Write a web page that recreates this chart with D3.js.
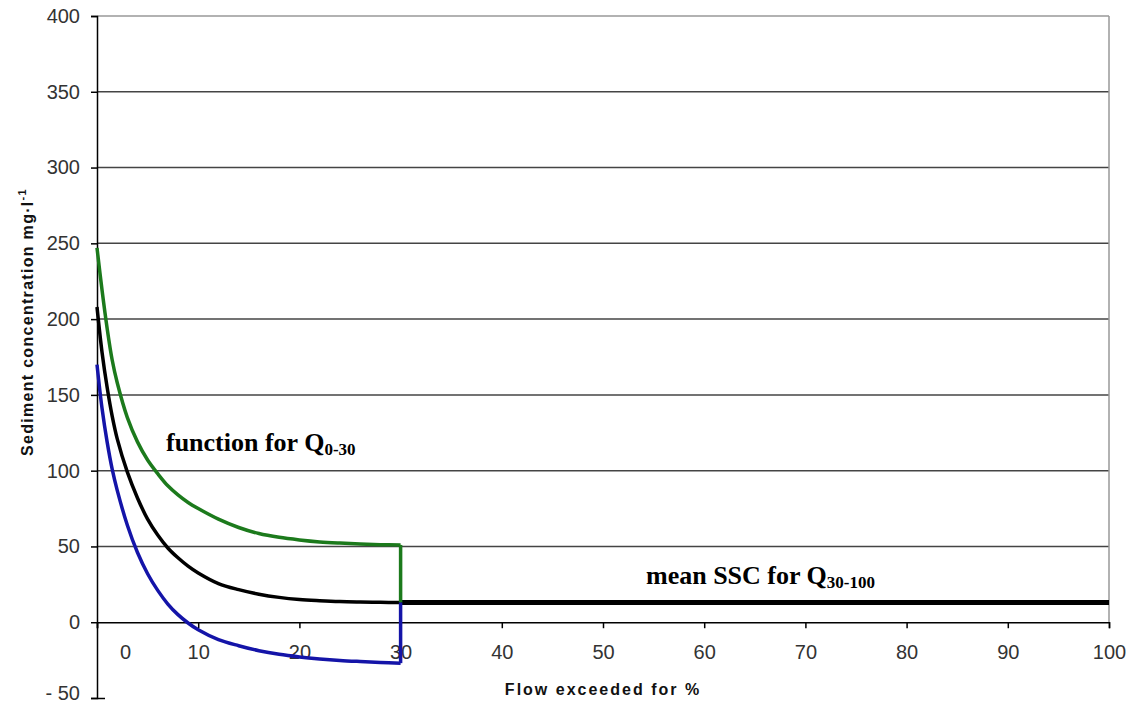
<!DOCTYPE html>
<html lang="en">
  <head>
    <meta charset="utf-8">
    <title>Sediment concentration vs flow exceeded</title>
    <script src="https://d3js.org/d3.v7.min.js"></script>
    <style>
      body { margin: 0; background: white; }
      .tick text { font-family: "Liberation Sans", Arial, sans-serif; font-size: 20px; fill: #333; }
      .title { font-family: "Liberation Sans", Arial, sans-serif; font-size: 16px; font-weight: bold; fill: #111; }
      .note { font-family: "Liberation Serif", "Times New Roman", serif; font-weight: bold; font-size: 26px; fill: black; }
    </style>
  </head>
  <body>
    <svg width="1130" height="706"></svg>
    <script>
      // values
      var yTicks = [-50, 0, 50, 100, 150, 200, 250, 300, 350, 400];
      var xTicks = [0, 10, 20, 30, 40, 50, 60, 70, 80, 90, 100];
      var flow = [0, 0.5, 1, 1.5, 2, 3, 4, 5, 6, 7, 8, 9, 10, 12, 14, 16, 18, 20, 22, 24, 26, 28, 30];
      var upperSSC = [247, 219, 194, 173, 158, 135, 119, 107, 98, 90, 84, 79, 75, 68, 62.5, 58.5, 56, 54.3, 53, 52.2, 51.6, 51.2, 51];
      var meanSSC = [208, 178, 155, 136, 121, 99, 82, 68, 57.5, 49, 42.5, 37, 32.5, 25.5, 21.5, 18.5, 16.4, 15, 14.2, 13.6, 13.3, 13.1, 13];
      var lowerSSC = [170, 141, 119, 101, 87, 64, 46, 32, 21, 12, 5, -0.5, -5, -11.5, -15.5, -18.8, -21.2, -22.9, -24.2, -25.2, -25.9, -26.5, -27];
      var tailFlow = [30, 100];
      var tailSSC = [13, 13];

      var svg = d3.select("svg");
      var x = d3.scaleLinear().domain([0, 100]).range([97, 1109]);
      var y = d3.scaleLinear().domain([-50, 400]).range([698, 16]);

      // horizontal gridlines
      svg.append("g").selectAll("line").data(yTicks.filter(function(d) { return d > 0; }))
        .enter().append("line")
        .attr("x1", x(0)).attr("x2", x(100))
        .attr("y1", function(d) { return y(d); }).attr("y2", function(d) { return y(d); })
        .attr("stroke", function(d) { return d == 400 ? "#999" : "#444"; })
        .attr("stroke-width", 1.5);
      // right frame
      svg.append("line").attr("x1", x(100)).attr("x2", x(100))
        .attr("y1", y(400)).attr("y2", y(0))
        .attr("stroke", "#999").attr("stroke-width", 1.5);

      // y axis
      var yAxis = svg.append("g").attr("transform", "translate(" + x(0) + ",0)")
        .call(d3.axisLeft(y).tickValues(yTicks).tickSize(6).tickPadding(11)
          .tickFormat(function(d) { return d < 0 ? "- " + (-d) : d; }));
      yAxis.select(".domain").attr("stroke", "black").attr("stroke-width", 1.5);
      yAxis.selectAll(".tick line").attr("stroke", "black").attr("stroke-width", 1.5);
      var low = yAxis.selectAll(".tick").filter(function(d) { return d == -50; });
      low.select("line").attr("x2", 8).attr("x1", -6);
      low.select("text").attr("y", -5);

      // x axis along zero
      var xAxis = svg.append("g").attr("transform", "translate(0," + y(0) + ")")
        .call(d3.axisBottom(x).tickValues(xTicks).tickSize(6).tickPadding(17));
      xAxis.select(".domain").attr("stroke", "black").attr("stroke-width", 1.5);
      xAxis.selectAll(".tick line").attr("stroke", "black").attr("stroke-width", 1.5);
      xAxis.selectAll(".tick").filter(function(d) { return d == 0; })
        .select("text").attr("dx", 28);

      var line = d3.line()
        .x(function(d) { return x(d[0]); })
        .y(function(d) { return y(d[1]); })
        .curve(d3.curveCatmullRom.alpha(0.5));
      function pts(xs, ys) { return xs.map(function(v, i) { return [v, ys[i]]; }); }

      var drop = d3.line()
        .x(function(d) { return x(d[0]); })
        .y(function(d) { return y(d[1]); });

      // flat mean beyond 30 %
      svg.append("path").attr("d", drop(pts(tailFlow, tailSSC)))
        .attr("fill", "none").attr("stroke", "black").attr("stroke-width", 5);

      svg.append("path").attr("d", line(pts(flow, meanSSC)))
        .attr("fill", "none").attr("stroke", "black").attr("stroke-width", 3.5);

      svg.append("path").attr("d", line(pts(flow, upperSSC)))
        .attr("fill", "none").attr("stroke", "#1c7a1c").attr("stroke-width", 3.5);
      svg.append("path").attr("d", drop([[30, upperSSC[upperSSC.length - 1]], [30, tailSSC[0]]]))
        .attr("fill", "none").attr("stroke", "#1c7a1c").attr("stroke-width", 3.5);

      svg.append("path").attr("d", line(pts(flow, lowerSSC)))
        .attr("fill", "none").attr("stroke", "#1414a8").attr("stroke-width", 3.5);
      svg.append("path").attr("d", drop([[30, lowerSSC[lowerSSC.length - 1]], [30, tailSSC[0]]]))
        .attr("fill", "none").attr("stroke", "#1414a8").attr("stroke-width", 3.5);

      // axis titles
      svg.append("text").attr("class", "title").attr("text-anchor", "middle")
        .attr("letter-spacing", "1.3px")
        .attr("transform", "translate(33,322) rotate(-90)")
        .html("Sediment concentration mg·l<tspan dy='-7' font-size='11px'>-1</tspan>");
      svg.append("text").attr("class", "title").attr("text-anchor", "middle")
        .attr("letter-spacing", "2px")
        .attr("x", 603).attr("y", 695).text("Flow exceeded for %");

      // annotations
      svg.append("text").attr("class", "note").attr("x", 166).attr("y", 451)
        .html("function for Q<tspan font-size='17px' dy='4'>0-30</tspan>");
      svg.append("text").attr("class", "note").attr("x", 646).attr("y", 584)
        .html("mean SSC for Q<tspan font-size='17px' dy='4'>30-100</tspan>");
    </script>
  </body>
</html>
